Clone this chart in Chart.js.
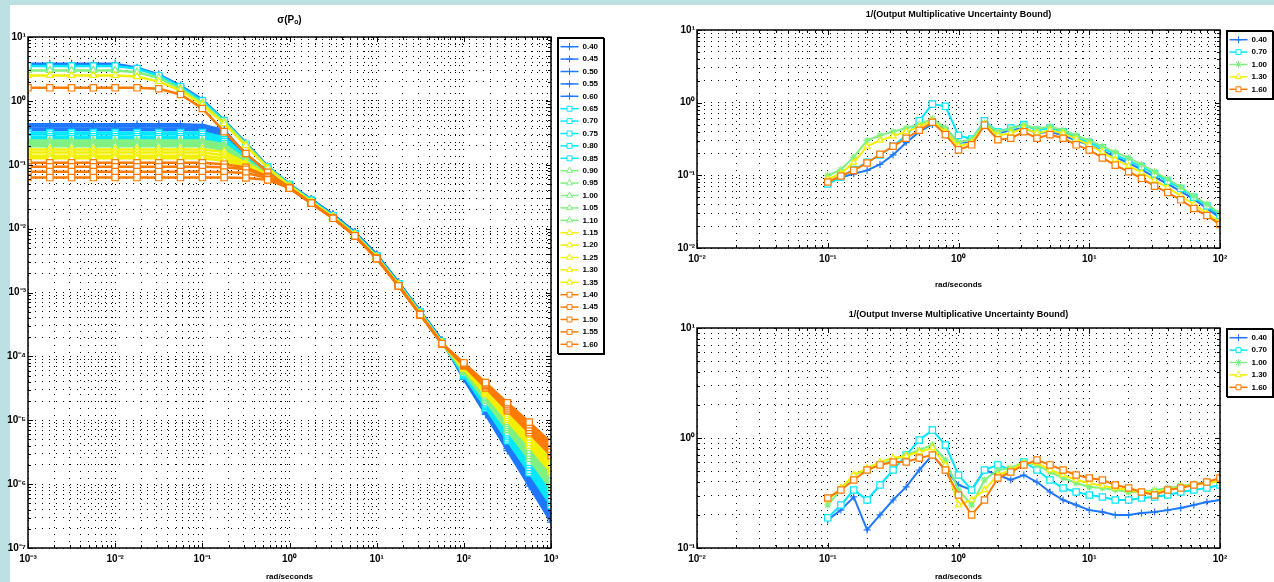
<!DOCTYPE html>
<html>
<head>
<meta charset="utf-8">
<script src="https://cdn.jsdelivr.net/npm/chart.js"></script>
<style>
  html, body { margin: 0; padding: 0; }
  body { width: 1274px; height: 582px; background: #bde1e3; position: relative; overflow: hidden; }
  #sheet { position: absolute; left: 10px; top: 5px; width: 1264px; height: 577px; background: #fff; }
  canvas { position: absolute; }
</style>
</head>
<body>
<div id="sheet"></div>
<canvas id="sigmaChart" width="640" height="582" style="left:0;top:0"></canvas>
<canvas id="multChart" width="624" height="290" style="left:650px;top:0"></canvas>
<canvas id="invChart" width="624" height="292" style="left:650px;top:290px"></canvas>
<script>
// ---- left plot: singular values, 25 cases, 5 colour groups ----
const freqLeft = [0.001, 0.00178, 0.00316, 0.00562, 0.01, 0.0178, 0.0316, 0.0562, 0.1, 0.178, 0.316, 0.562,
  1, 1.78, 3.16, 5.62, 10, 17.8, 31.6, 56.2, 100, 178, 316, 562, 1000]

const blueSigma = [
  [3.8, 3.8, 3.8, 3.8, 3.8, 3.3, 2.6, 1.74, 1.05, 0.50, 0.22, 0.095, 0.050, 0.0286, 0.0165, 0.0087, 0.0039, 0.00143, 0.00051, 0.000176, 4.4e-5, 1.23e-5, 3.35e-6, 9.3e-7, 2.54e-7],
  [0.43, 0.43, 0.43, 0.43, 0.43, 0.43, 0.43, 0.43, 0.42, 0.35, 0.145, 0.079, 0.047, 0.0286, 0.0165, 0.0087, 0.0039, 0.00143, 0.00051, 0.000176, 4.5e-5, 1.29e-5, 3.6e-6, 1.03e-6, 2.86e-7],
  [0.40, 0.40, 0.40, 0.40, 0.40, 0.40, 0.40, 0.40, 0.39, 0.33, 0.141, 0.079, 0.047, 0.0286, 0.0165, 0.0087, 0.0039, 0.00143, 0.00051, 0.000176, 4.6e-5, 1.36e-5, 3.87e-6, 1.13e-6, 3.23e-7],
  [0.37, 0.37, 0.37, 0.37, 0.37, 0.37, 0.37, 0.37, 0.37, 0.31, 0.138, 0.078, 0.047, 0.0286, 0.0165, 0.0087, 0.0039, 0.00143, 0.00051, 0.000176, 4.7e-5, 1.42e-5, 4.16e-6, 1.24e-6, 3.64e-7],
  [0.35, 0.35, 0.35, 0.35, 0.35, 0.35, 0.35, 0.35, 0.35, 0.29, 0.135, 0.078, 0.047, 0.0286, 0.0165, 0.0087, 0.0039, 0.00143, 0.00051, 0.000176, 4.9e-5, 1.49e-5, 4.47e-6, 1.37e-6, 4.1e-7],
]
const cyanSigma = [
  [3.5, 3.5, 3.5, 3.5, 3.5, 3.2, 2.5, 1.66, 1.0, 0.49, 0.21, 0.093, 0.049, 0.0275, 0.0158, 0.0083, 0.0037, 0.00137, 0.00049, 0.000168, 5.0e-5, 1.56e-5, 4.8e-6, 1.51e-6, 4.62e-7],
  [0.32, 0.32, 0.32, 0.32, 0.32, 0.32, 0.32, 0.32, 0.32, 0.27, 0.132, 0.076, 0.046, 0.0275, 0.0158, 0.0083, 0.0037, 0.00137, 0.00049, 0.000168, 5.1e-5, 1.64e-5, 5.16e-6, 1.66e-6, 5.21e-7],
  [0.30, 0.30, 0.30, 0.30, 0.30, 0.30, 0.30, 0.30, 0.30, 0.245, 0.129, 0.076, 0.046, 0.0275, 0.0158, 0.0083, 0.0037, 0.00137, 0.00049, 0.000168, 5.2e-5, 1.72e-5, 5.55e-6, 1.83e-6, 5.87e-7],
  [0.275, 0.275, 0.275, 0.275, 0.275, 0.275, 0.275, 0.275, 0.275, 0.23, 0.126, 0.074, 0.046, 0.0275, 0.0158, 0.0083, 0.0037, 0.00137, 0.00049, 0.000168, 5.3e-5, 1.8e-5, 5.96e-6, 2.01e-6, 6.62e-7],
  [0.257, 0.257, 0.257, 0.257, 0.257, 0.257, 0.257, 0.257, 0.257, 0.214, 0.123, 0.074, 0.046, 0.0275, 0.0158, 0.0083, 0.0037, 0.00137, 0.00049, 0.000168, 5.5e-5, 1.89e-5, 6.4e-6, 2.21e-6, 7.46e-7],
]
const greenSigma = [
  [3.0, 3.0, 3.0, 3.0, 3.0, 2.8, 2.3, 1.55, 0.93, 0.47, 0.21, 0.091, 0.048, 0.0265, 0.0153, 0.0081, 0.0036, 0.00133, 0.00047, 0.000163, 5.6e-5, 1.99e-5, 6.89e-6, 2.44e-6, 8.41e-7],
  [0.24, 0.24, 0.24, 0.24, 0.24, 0.24, 0.24, 0.24, 0.24, 0.209, 0.12, 0.072, 0.045, 0.0265, 0.0153, 0.0081, 0.0036, 0.00133, 0.00047, 0.000163, 5.7e-5, 2.08e-5, 7.4e-6, 2.69e-6, 9.48e-7],
  [0.224, 0.224, 0.224, 0.224, 0.224, 0.224, 0.224, 0.224, 0.224, 0.195, 0.117, 0.072, 0.045, 0.0265, 0.0153, 0.0081, 0.0036, 0.00133, 0.00047, 0.000163, 5.9e-5, 2.19e-5, 7.94e-6, 2.95e-6, 1.07e-6],
  [0.209, 0.209, 0.209, 0.209, 0.209, 0.209, 0.209, 0.209, 0.209, 0.182, 0.115, 0.071, 0.045, 0.0265, 0.0153, 0.0081, 0.0036, 0.00133, 0.00047, 0.000163, 6.0e-5, 2.29e-5, 8.53e-6, 3.25e-6, 1.2e-6],
  [0.195, 0.195, 0.195, 0.195, 0.195, 0.195, 0.195, 0.195, 0.195, 0.17, 0.112, 0.071, 0.045, 0.0265, 0.0153, 0.0081, 0.0036, 0.00133, 0.00047, 0.000163, 6.2e-5, 2.4e-5, 9.18e-6, 3.58e-6, 1.36e-6],
]
const yellowSigma = [
  [2.5, 2.5, 2.5, 2.5, 2.5, 2.4, 2.0, 1.45, 0.87, 0.44, 0.20, 0.089, 0.047, 0.026, 0.015, 0.0079, 0.0035, 0.0013, 0.00046, 0.00016, 6.3e-5, 2.52e-5, 9.86e-6, 3.94e-6, 1.53e-6],
  [0.174, 0.174, 0.174, 0.174, 0.174, 0.174, 0.174, 0.174, 0.174, 0.158, 0.107, 0.069, 0.044, 0.026, 0.015, 0.0079, 0.0035, 0.0013, 0.00046, 0.00016, 6.5e-5, 2.65e-5, 1.06e-5, 4.34e-6, 1.73e-6],
  [0.155, 0.155, 0.155, 0.155, 0.155, 0.155, 0.155, 0.155, 0.155, 0.141, 0.102, 0.069, 0.044, 0.026, 0.015, 0.0079, 0.0035, 0.0013, 0.00046, 0.00016, 6.6e-5, 2.78e-5, 1.14e-5, 4.78e-6, 1.95e-6],
  [0.138, 0.138, 0.138, 0.138, 0.138, 0.138, 0.138, 0.138, 0.138, 0.126, 0.098, 0.068, 0.044, 0.026, 0.015, 0.0079, 0.0035, 0.0013, 0.00046, 0.00016, 6.8e-5, 2.91e-5, 1.22e-5, 5.26e-6, 2.19e-6],
  [0.126, 0.126, 0.126, 0.126, 0.126, 0.126, 0.126, 0.126, 0.126, 0.115, 0.095, 0.068, 0.044, 0.026, 0.015, 0.0079, 0.0035, 0.0013, 0.00046, 0.00016, 7.0e-5, 3.05e-5, 1.32e-5, 5.78e-6, 2.47e-6],
]
const orangeSigma = [
  [1.6, 1.6, 1.6, 1.6, 1.6, 1.6, 1.55, 1.26, 0.76, 0.33, 0.15, 0.076, 0.044, 0.025, 0.0145, 0.0077, 0.0034, 0.00127, 0.00045, 0.000158, 7.1e-5, 3.21e-5, 1.41e-5, 6.37e-6, 2.79e-6],
  [0.107, 0.107, 0.107, 0.107, 0.107, 0.107, 0.107, 0.107, 0.107, 0.102, 0.091, 0.066, 0.043, 0.025, 0.0145, 0.0077, 0.0034, 0.00127, 0.00045, 0.000158, 7.3e-5, 3.37e-5, 1.52e-5, 7.01e-6, 3.14e-6],
  [0.093, 0.093, 0.093, 0.093, 0.093, 0.093, 0.093, 0.093, 0.093, 0.091, 0.085, 0.065, 0.043, 0.025, 0.0145, 0.0077, 0.0034, 0.00127, 0.00045, 0.000158, 7.5e-5, 3.53e-5, 1.63e-5, 7.71e-6, 3.54e-6],
  [0.078, 0.078, 0.078, 0.078, 0.078, 0.078, 0.078, 0.078, 0.078, 0.077, 0.074, 0.062, 0.043, 0.025, 0.0145, 0.0077, 0.0034, 0.00127, 0.00045, 0.000158, 7.7e-5, 3.7e-5, 1.75e-5, 8.49e-6, 3.99e-6],
  [0.063, 0.063, 0.063, 0.063, 0.063, 0.063, 0.063, 0.063, 0.063, 0.063, 0.062, 0.058, 0.043, 0.025, 0.0145, 0.0077, 0.0034, 0.00127, 0.00045, 0.000158, 7.9e-5, 3.88e-5, 1.88e-5, 9.35e-6, 4.5e-6],
]
const sigmaLabels = ['0.40', '0.45', '0.50', '0.55', '0.60', '0.65', '0.70', '0.75', '0.80', '0.85',
  '0.90', '0.95', '1.00', '1.05', '1.10', '1.15', '1.20', '1.25', '1.30', '1.35',
  '1.40', '1.45', '1.50', '1.55', '1.60']

// ---- right plots: 5 cases ----
const freqRight = [0.1, 0.126, 0.158, 0.2, 0.251, 0.316, 0.398, 0.501, 0.631, 0.794, 1, 1.26, 1.58, 2, 2.51, 3.16,
  3.98, 5.01, 6.31, 7.94, 10, 12.6, 15.8, 20, 25.1, 31.6, 39.8, 50.1, 63.1, 79.4, 100]

const multBlue = [0.079, 0.093, 0.105, 0.117, 0.141, 0.191, 0.282, 0.398, 0.501, 0.447, 0.282, 0.282, 0.501, 0.380, 0.417, 0.447, 0.380, 0.398, 0.355, 0.302, 0.263, 0.219, 0.178, 0.148, 0.120, 0.095, 0.076, 0.060, 0.047, 0.035, 0.026]
const multCyan = [0.076, 0.095, 0.120, 0.151, 0.191, 0.251, 0.355, 0.562, 0.955, 0.891, 0.355, 0.316, 0.562, 0.398, 0.447, 0.501, 0.417, 0.447, 0.398, 0.331, 0.282, 0.240, 0.191, 0.158, 0.132, 0.105, 0.083, 0.066, 0.050, 0.038, 0.028]
const multGreen = [0.100, 0.120, 0.178, 0.302, 0.355, 0.398, 0.447, 0.501, 0.603, 0.447, 0.282, 0.316, 0.525, 0.398, 0.437, 0.501, 0.437, 0.468, 0.417, 0.355, 0.302, 0.251, 0.209, 0.174, 0.141, 0.112, 0.089, 0.069, 0.052, 0.040, 0.030]
const multYellow = [0.089, 0.105, 0.151, 0.251, 0.302, 0.347, 0.398, 0.468, 0.562, 0.398, 0.251, 0.282, 0.501, 0.355, 0.380, 0.447, 0.380, 0.417, 0.380, 0.316, 0.263, 0.209, 0.166, 0.135, 0.110, 0.085, 0.068, 0.052, 0.040, 0.030, 0.023]
const multOrange = [0.081, 0.098, 0.117, 0.148, 0.195, 0.251, 0.324, 0.417, 0.537, 0.363, 0.224, 0.263, 0.490, 0.309, 0.324, 0.398, 0.324, 0.363, 0.324, 0.263, 0.224, 0.174, 0.138, 0.112, 0.091, 0.071, 0.058, 0.046, 0.035, 0.028, 0.021]

const invBlue = [0.180, 0.221, 0.291, 0.146, 0.200, 0.273, 0.359, 0.512, 0.700, 0.512, 0.374, 0.337, 0.512, 0.461, 0.415, 0.461, 0.398, 0.323, 0.273, 0.246, 0.221, 0.212, 0.200, 0.200, 0.208, 0.212, 0.221, 0.231, 0.246, 0.262, 0.273]
const invCyan = [0.188, 0.246, 0.337, 0.273, 0.374, 0.512, 0.700, 0.959, 1.18, 0.863, 0.461, 0.337, 0.512, 0.569, 0.512, 0.605, 0.512, 0.415, 0.351, 0.323, 0.303, 0.291, 0.273, 0.273, 0.285, 0.291, 0.303, 0.323, 0.337, 0.351, 0.374]
const invGreen = [0.246, 0.337, 0.461, 0.512, 0.569, 0.631, 0.700, 0.778, 0.863, 0.631, 0.337, 0.246, 0.415, 0.512, 0.533, 0.605, 0.569, 0.491, 0.433, 0.390, 0.359, 0.351, 0.337, 0.323, 0.323, 0.337, 0.351, 0.366, 0.382, 0.398, 0.415]
const invYellow = [0.273, 0.351, 0.461, 0.533, 0.605, 0.658, 0.686, 0.746, 0.811, 0.569, 0.246, 0.273, 0.337, 0.461, 0.512, 0.593, 0.593, 0.512, 0.461, 0.415, 0.390, 0.366, 0.351, 0.337, 0.323, 0.323, 0.337, 0.359, 0.374, 0.390, 0.406]
const invOrange = [0.285, 0.337, 0.415, 0.512, 0.569, 0.605, 0.605, 0.658, 0.700, 0.512, 0.303, 0.200, 0.273, 0.433, 0.491, 0.569, 0.631, 0.569, 0.512, 0.461, 0.433, 0.415, 0.374, 0.351, 0.323, 0.303, 0.337, 0.351, 0.374, 0.398, 0.433]

const caseLabels = ['0.40', '0.70', '1.00', '1.30', '1.60']

// styles per colour group
const groupStyles = [
  { color: '#1f78ff', marker: 'cross', r: 4, w: 2.5 },
  { color: '#00e8ff', marker: 'rect', r: 4.5, w: 2.5 },
  { color: '#80f080', marker: 'triangle', r: 4, w: 2.5 },
  { color: '#f2f000', marker: 'triangle', r: 4, w: 2.5 },
  { color: '#ff7a00', marker: 'rect', r: 4.5, w: 2.5 },
]
const rightStyles = [
  { color: '#1f78ff', marker: 'cross', r: 3.5, w: 2 },
  { color: '#00e8ff', marker: 'rect', r: 4.5, w: 2 },
  { color: '#80f080', marker: 'star', r: 3.5, w: 2 },
  { color: '#f2f000', marker: 'triangle', r: 3.5, w: 2 },
  { color: '#ff7a00', marker: 'rect', r: 4.5, w: 2 },
]
const FONT = '"Liberation Sans", Arial, sans-serif'
Chart.defaults.font.family = FONT
Chart.defaults.color = '#000'

const SUP = { '-': '\u207b', 0: '\u2070', 1: '\u00b9', 2: '\u00b2', 3: '\u00b3', 4: '\u2074', 5: '\u2075', 6: '\u2076', 7: '\u2077', 8: '\u2078', 9: '\u2079' }
function decadeLabel(v) {
  const e = Math.log10(v)
  if (Math.abs(e - Math.round(e)) > 1e-6) return ''
  return '10' + String(Math.round(e)).split('').map((c) => SUP[c]).join('')
}

function logTicks(scale) {
  const lo = Math.round(Math.log10(scale.min))
  const hi = Math.round(Math.log10(scale.max))
  const ticks = []
  for (let e = lo; e <= hi; e++) {
    for (let m = 1; m <= 9; m++) {
      if (e === hi && m > 1) break
      ticks.push({ value: m * Math.pow(10, e) })
    }
  }
  scale.ticks = ticks
}

function logAxis(min, max, isX, size, extra) {
  return Object.assign({
    type: 'logarithmic',
    min,
    max,
    position: isX ? 'bottom' : 'left',
    afterBuildTicks: logTicks,
    afterFit(scale) {
      if (isX) scale.height = size
      else scale.width = size
    },
    ticks: {
      autoSkip: false,
      maxRotation: 0,
      padding: isX ? 5 : 2,
      font: { size: 10, weight: 'bold' },
      callback: (v) => decadeLabel(v),
    },
    grid: { color: '#000', lineWidth: 1, drawTicks: false },
    border: { display: false, dash: [1, 6] },
  }, extra)
}

function drawMarker(ctx, style, x, y, r, color) {
  ctx.save()
  ctx.strokeStyle = color
  ctx.fillStyle = '#fff'
  ctx.lineWidth = 1
  ctx.beginPath()
  if (style === 'cross') {
    ctx.moveTo(x - r, y); ctx.lineTo(x + r, y)
    ctx.moveTo(x, y - r); ctx.lineTo(x, y + r)
    ctx.stroke()
  } else if (style === 'rect') {
    const s = r * Math.SQRT1_2
    ctx.rect(x - s, y - s, 2 * s, 2 * s)
    ctx.fill(); ctx.stroke()
  } else if (style === 'triangle') {
    ctx.moveTo(x, y - r)
    ctx.lineTo(x + r * 0.87, y + r * 0.5)
    ctx.lineTo(x - r * 0.87, y + r * 0.5)
    ctx.closePath()
    ctx.fill(); ctx.stroke()
  } else if (style === 'star') {
    const d = r * 0.7
    ctx.moveTo(x - r, y); ctx.lineTo(x + r, y)
    ctx.moveTo(x, y - r); ctx.lineTo(x, y + r)
    ctx.moveTo(x - d, y - d); ctx.lineTo(x + d, y + d)
    ctx.moveTo(x - d, y + d); ctx.lineTo(x + d, y - d)
    ctx.stroke()
  }
  ctx.restore()
}

// box round the axes with matlab-style inward ticks
const axesBox = {
  id: 'axesBox',
  afterDraw(chart) {
    const { ctx, chartArea: a, scales } = chart
    ctx.save()
    ctx.strokeStyle = '#000'
    ctx.lineWidth = 1
    ctx.beginPath()
    scales.x.ticks.forEach((t) => {
      const px = Math.round(scales.x.getPixelForValue(t.value)) + 0.5
      const len = decadeLabel(t.value) ? 5 : 3
      ctx.moveTo(px, a.bottom); ctx.lineTo(px, a.bottom - len)
      ctx.moveTo(px, a.top); ctx.lineTo(px, a.top + len)
    })
    scales.y.ticks.forEach((t) => {
      const py = Math.round(scales.y.getPixelForValue(t.value)) + 0.5
      const len = decadeLabel(t.value) ? 5 : 3
      ctx.moveTo(a.left, py); ctx.lineTo(a.left + len, py)
      ctx.moveTo(a.right, py); ctx.lineTo(a.right - len, py)
    })
    ctx.stroke()
    ctx.lineWidth = 1.5
    ctx.strokeRect(Math.round(a.left), Math.round(a.top), Math.round(a.right - a.left), Math.round(a.bottom - a.top))
    ctx.restore()
  },
}

// boxed legend to the right of the axes
const boxLegend = {
  id: 'boxLegend',
  afterDraw(chart, args, opts) {
    const { ctx, chartArea: a } = chart
    const sets = chart.data.datasets
    const x0 = Math.round(a.right + opts.gap) + 0.5
    const y0 = Math.round(a.top) + 0.5
    const h = Math.round(sets.length * opts.row + 6)
    ctx.save()
    ctx.fillStyle = '#fff'
    ctx.fillRect(x0, y0, opts.width, h)
    ctx.strokeStyle = '#000'
    ctx.lineWidth = 1
    ctx.strokeRect(x0, y0, opts.width, h)
    ctx.strokeRect(x0 + 1, y0 + 1, opts.width, h)
    ctx.font = 'bold 8px ' + FONT
    ctx.textBaseline = 'middle'
    sets.forEach((ds, i) => {
      const y = y0 + 3 + opts.row * (i + 0.5)
      ctx.strokeStyle = ds.borderColor
      ctx.lineWidth = 1.5
      ctx.beginPath()
      ctx.moveTo(x0 + 3, y); ctx.lineTo(x0 + 21, y)
      ctx.stroke()
      drawMarker(ctx, ds.pointStyle, x0 + 12, y, Math.min(ds.pointRadius, 3.5), ds.borderColor)
      ctx.fillStyle = '#000'
      ctx.fillText(ds.label, x0 + 25, y)
    })
    ctx.restore()
  },
}

function makeSet(label, freqs, values, style, order) {
  return {
    label,
    data: freqs.map((f, i) => ({ x: f, y: values[i] })),
    order,
    borderColor: style.color,
    backgroundColor: '#fff',
    pointStyle: style.marker,
    pointRadius: style.r,
    pointBorderWidth: 1.2,
    borderWidth: style.w,
    fill: false,
    tension: 0,
  }
}

function buildChart(id, datasets, o) {
  return new Chart(document.getElementById(id), {
    type: 'line',
    data: { datasets },
    options: {
      responsive: false,
      animation: false,
      events: [],
      layout: { padding: { left: 0, right: o.padRight, top: 0, bottom: 0 } },
      plugins: {
        legend: { display: false },
        tooltip: { enabled: false },
        title: {
          display: true,
          text: o.title,
          fullSize: false,
          font: { size: o.titleSize, weight: 'bold' },
          padding: o.titlePad,
        },
        boxLegend: { gap: 6, width: 46, row: o.row },
      },
      scales: {
        x: logAxis(o.xMin, o.xMax, true, o.xHeight, {
          title: { display: true, text: 'rad/seconds', font: { size: 8, weight: 'bold' }, padding: { top: o.xTitlePad, bottom: 0 } },
        }),
        y: logAxis(o.yMin, o.yMax, false, o.yWidth, {}),
      },
    },
    plugins: [axesBox, boxLegend],
  })
}

// left chart: later (orange) cases drawn on top
const sigmaGroups = [blueSigma, cyanSigma, greenSigma, yellowSigma, orangeSigma]
const sigmaSets = []
sigmaGroups.forEach((rows, g) => {
  rows.forEach((vals, j) => {
    const i = g * 5 + j
    sigmaSets.push(makeSet(sigmaLabels[i], freqLeft, vals, groupStyles[g], 24 - i))
  })
})
buildChart('sigmaChart', sigmaSets, {
  title: '\u03c3(P\u2092)', titleSize: 10, titlePad: { top: 14, bottom: 11 },
  xMin: 1e-3, xMax: 1e3, yMin: 1e-7, yMax: 10,
  xHeight: 34, yWidth: 28, padRight: 89, xTitlePad: 2, row: 12.4,
})

// right charts
const multSets = [multBlue, multCyan, multGreen, multYellow, multOrange]
  .map((vals, i) => makeSet(caseLabels[i], freqRight, vals, rightStyles[i], 4 - i))
buildChart('multChart', multSets, {
  title: '1/(Output Multiplicative Uncertainty Bound)', titleSize: 9, titlePad: { top: 9, bottom: 10.2 },
  xMin: 1e-2, xMax: 1e2, yMin: 1e-2, yMax: 10,
  xHeight: 42, yWidth: 47, padRight: 54, xTitlePad: 8, row: 12.4,
})

const invSets = [invBlue, invCyan, invGreen, invYellow, invOrange]
  .map((vals, i) => makeSet(caseLabels[i], freqRight, vals, rightStyles[i], 4 - i))
buildChart('invChart', invSets, {
  title: '1/(Output Inverse Multiplicative Uncertainty Bound)', titleSize: 9, titlePad: { top: 19, bottom: 8.2 },
  xMin: 1e-2, xMax: 1e2, yMin: 1e-1, yMax: 10,
  xHeight: 34, yWidth: 47, padRight: 54, xTitlePad: 2, row: 12.4,
})
</script>
</body>
</html>
